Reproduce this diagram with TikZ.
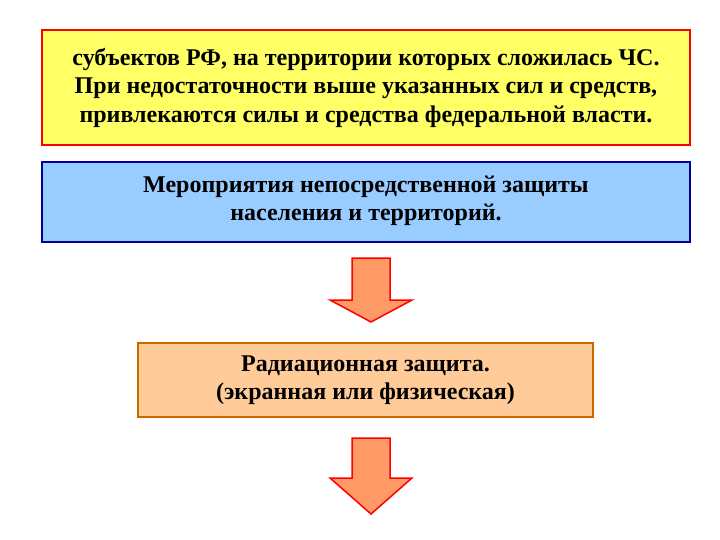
\documentclass[tikz,border=0pt]{standalone}
\usepackage{fontspec}
\setmainfont{Liberation Serif}
\definecolor{skyb}{HTML}{99CCFF}
\definecolor{yel}{HTML}{FFFF66}
\definecolor{peach}{HTML}{FFCC99}
\definecolor{arrf}{HTML}{FF9966}
\begin{document}
\begin{tikzpicture}[x=1pt,y=-1pt,
  txt/.style={font=\bfseries\fontsize{24}{28.5}\selectfont,align=center},
  arr/.style={draw=red,line width=1.5pt,fill=arrf}]
\useasboundingbox (0,0) rectangle (720,540);
\fill[white] (0,0) rectangle (720,540);
\node[draw=red,line width=2pt,fill=yel,minimum width=648,minimum height=115,inner sep=0] (b1) at (366,87.5) {};
\node[txt] (t1) at (b1.center) {субъектов РФ, на территории которых сложилась ЧС.\\При недостаточности выше указанных сил и средств,\\привлекаются силы и средства федеральной власти.};
\node[draw=blue!60!black,line width=2pt,fill=skyb,minimum width=648,minimum height=80,inner sep=0] (b2) at (366,202) {};
\node[txt,anchor=north] (t2) at (366,172) {Мероприятия непосредственной защиты\\населения и территорий.};
\node[draw=orange!80!black,line width=2pt,fill=peach,minimum width=455,minimum height=74,inner sep=0] (b3) at (365.5,380) {};
\node[txt] (t3) at (b3.center) {Радиационная защита.\\(экранная или физическая)};
\draw[arr] (352,258) -- (390,258) -- (390,300) -- (412,300) -- (371,322) -- (330,300) -- (352,300) -- cycle;
\draw[arr] (352,438) -- (390,438) -- (390,478) -- (412,478) -- (371,514) -- (330,478) -- (352,478) -- cycle;
\end{tikzpicture}
\end{document}
